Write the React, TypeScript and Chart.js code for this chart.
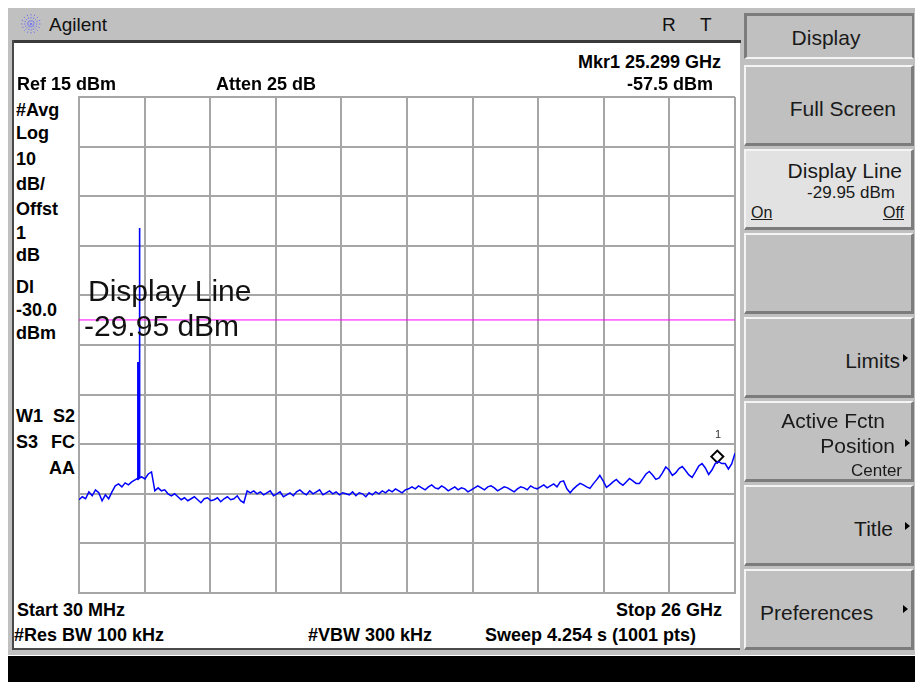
import React, { useEffect, useRef } from "react";
import { Chart, registerables } from "chart.js";

Chart.register(...registerables);

// ---- Sweep setup ----
const START_GHZ = 0.03;
const STOP_GHZ = 26;
const REF_LEVEL_DBM = 15;
const DB_PER_DIV = 10;
const DIVISIONS = 10;

// ---- Trace 1 (dBm), evenly spaced from start to stop ----
const traceLevels = [
  -66.2, -65.6, -66.0,
  -64.6, -65.4, -64.2, -64.8,
  -66.4, -65.2, -66.0,
  -64.6,
  -63.4, -63.0, -63.6, -62.8, -63.2,
  -62.6, -62.2, -61.8,
  -61.6, -62.0, -61.0, -60.6,
  -64.4,
  -63.8, -64.4, -64.2, -65.0, -65.4, -65.0,
  -65.6, -66.2, -65.8, -66.4, -66.0, -65.6, -66.2, -66.8, -66.0, -65.8,
  -66.4, -66.2, -65.8, -66.6, -66.0, -65.6, -66.2, -66.0, -65.4, -66.4, -66.8,
  -64.4, -64.8, -64.4, -65.0, -64.6, -65.2, -64.8, -64.4, -65.4, -65.0,
  -64.6, -65.6, -65.2, -64.8, -65.4, -64.6,
  -64.2, -64.8, -65.2, -64.4, -65.0, -64.6, -64.2, -65.2, -64.8, -64.4,
  -65.0, -64.6, -65.2, -64.8, -65.0,
  -65.2, -64.6, -65.4, -64.8, -65.0, -65.6, -64.8, -65.2, -64.6, -65.0,
  -64.4, -64.8, -64.2, -64.6, -64.0, -64.4, -64.8, -64.2, -64.0,
  -63.6, -64.0, -63.4, -63.8, -64.2, -63.6, -63.2, -63.8, -64.0, -63.4,
  -63.8, -64.4, -64.0, -63.6, -64.2, -63.8, -64.0, -64.6, -64.2, -63.8,
  -63.4, -63.8, -64.2, -63.6, -63.4, -63.8, -64.4, -64.0, -63.6, -63.8,
  -64.2, -64.6, -64.0, -63.6, -63.8, -64.2, -63.4, -63.8, -64.0, -63.6,
  -63.2, -63.8, -63.4, -63.0, -63.6,
  -62.6, -62.4, -64.0, -64.8, -64.0, -63.4, -62.9, -63.2, -63.6, -63.9,
  -63.0, -62.2, -61.3, -62.4, -63.7, -63.2, -62.6, -62.1, -62.8, -63.3,
  -62.6, -61.9, -62.4, -62.9, -62.9, -62.0, -61.0, -60.5, -61.2, -62.1,
  -61.8, -60.8, -59.6, -60.2, -61.3, -60.8, -59.9, -59.5, -60.3, -61.2,
  -61.7, -60.6, -59.4, -58.9, -59.8, -61.1, -60.2, -58.9, -58.5, -58.9,
  -58.9, -60.0, -59.0, -56.8,
];

// ---- Spurious signal near 2.4 GHz ----
const spikeFreqsGHz = [2.36, 2.36, 2.385, 2.385, 2.43, 2.43, 2.43];
const spikeLevels = [-62.2, -38.6, -38.6, -62.0, -61.8, -11.4, -61.6];

// ---- Display line and marker ----
const displayLineDbm = -29.95;
const markerFreqGHz = 25.299;
const markerDbm = -57.5;

const W = 915;

type TP = {
  x: number;
  y: number;
  s?: number;
  b?: boolean;
  r?: boolean;
  c?: boolean;
  u?: boolean;
  color?: string;
  children: React.ReactNode;
};

const T = ({ x, y, s = 18, b = true, r = false, c = false, u = false, color = "#000", children }: TP) => {
  const pos: React.CSSProperties = c
    ? { left: x, transform: "translate(-50%,-50%)" }
    : r
    ? { right: W - x, transform: "translateY(-50%)" }
    : { left: x, transform: "translateY(-50%)" };
  return (
    <div
      style={{
        position: "absolute",
        top: y,
        ...pos,
        fontSize: s,
        fontWeight: b ? 700 : 400,
        lineHeight: 1,
        whiteSpace: "nowrap",
        color,
        textDecoration: u ? "underline" : undefined,
      }}
    >
      {children}
    </div>
  );
};

const Tri = ({ x, y }: { x: number; y: number }) => (
  <div
    style={{
      position: "absolute",
      left: x,
      top: y - 4,
      width: 0,
      height: 0,
      borderTop: "4px solid transparent",
      borderBottom: "4px solid transparent",
      borderLeft: "5px solid #000",
    }}
  />
);

const Btn = ({ top, h = 81, bg = "#c0c0c0" }: { top: number; h?: number; bg?: string }) => (
  <div
    style={{
      position: "absolute",
      left: 744,
      top,
      width: 170,
      height: h,
      boxSizing: "border-box",
      background: bg,
      borderTop: "2px solid #f4f4f4",
      borderLeft: "2px solid #f4f4f4",
      borderBottom: "3px solid #7c7c7c",
      borderRight: "3px solid #7c7c7c",
    }}
  />
);

export default function App() {
  const ref = useRef<HTMLCanvasElement | null>(null);

  useEffect(() => {
    if (!ref.current) return;
    const span = STOP_GHZ - START_GHZ;
    const xTicks = Array.from({ length: DIVISIONS + 1 }, (_, k) => START_GHZ + (k * span) / DIVISIONS);
    const bottom = REF_LEVEL_DBM - DB_PER_DIV * DIVISIONS;
    const yTicks = Array.from({ length: DIVISIONS + 1 }, (_, k) => bottom + k * DB_PER_DIV);
    const n = traceLevels.length;
    const trace = traceLevels.map((y, i) => ({ x: START_GHZ + (i * span) / (n - 1), y }));
    const spike = spikeFreqsGHz.map((x, i) => ({ x, y: spikeLevels[i] }));

    const gridColor = "#a6a6a6";
    const chart = new Chart(ref.current, {
      type: "scatter",
      data: {
        datasets: [
          {
            data: [
              { x: START_GHZ, y: displayLineDbm },
              { x: STOP_GHZ, y: displayLineDbm },
            ],
            showLine: true,
            borderColor: "#ff00ff",
            borderWidth: 1,
            pointRadius: 0,
          },
          {
            data: trace,
            showLine: true,
            borderColor: "#0000ff",
            borderWidth: 1.5,
            pointRadius: 0,
            tension: 0,
          },
          {
            data: spike,
            showLine: true,
            borderColor: "#0000ff",
            borderWidth: 1.6,
            pointRadius: 0,
            tension: 0,
          },
          {
            data: [{ x: markerFreqGHz, y: markerDbm }],
            showLine: false,
            pointStyle: "rectRot",
            pointRadius: 6,
            borderColor: "#000",
            borderWidth: 2,
            backgroundColor: "rgba(255,255,255,0)",
          },
        ],
      },
      options: {
        animation: false,
        responsive: false,
        maintainAspectRatio: false,
        events: [],
        layout: { padding: 4, autoPadding: false },
        plugins: { legend: { display: false }, tooltip: { enabled: false } },
        scales: {
          x: {
            type: "linear",
            min: START_GHZ,
            max: STOP_GHZ,
            afterBuildTicks: (ax: any) => {
              ax.ticks = xTicks.map((value) => ({ value }));
            },
            ticks: { display: false },
            grid: { color: gridColor, lineWidth: 2, drawTicks: false },
            border: { display: true, color: gridColor, width: 2 },
          },
          y: {
            type: "linear",
            min: bottom,
            max: REF_LEVEL_DBM,
            afterBuildTicks: (ax: any) => {
              ax.ticks = yTicks.map((value) => ({ value }));
            },
            ticks: { display: false },
            grid: { color: gridColor, lineWidth: 2, drawTicks: false },
            border: { display: true, color: gridColor, width: 2 },
          },
        },
      },
    });
    return () => chart.destroy();
  }, []);

  const sk = "#1a1a1a";

  return (
    <div
      style={{
        position: "absolute",
        left: 0,
        top: 0,
        width: 915,
        height: 682,
        overflow: "hidden",
        background: "#fff",
        fontFamily: '"Liberation Sans", Arial, sans-serif',
      }}
    >
      {/* instrument frame */}
      <div style={{ position: "absolute", left: 8, top: 8, width: 907, height: 647, background: "#c0c0c0" }} />
      {/* display area */}
      <div style={{ position: "absolute", left: 12, top: 40, width: 729, height: 3, background: "#3a3a3a" }} />
      <div style={{ position: "absolute", left: 12, top: 40, width: 2, height: 610, background: "#4a4a4a" }} />
      <div style={{ position: "absolute", left: 14, top: 43, width: 726, height: 605, background: "#fff" }} />
      <div style={{ position: "absolute", left: 12, top: 648, width: 728, height: 2, background: "#4a4a4a" }} />
      {/* bottom status bar */}
      <div style={{ position: "absolute", left: 8, top: 656, width: 907, height: 26, background: "#000" }} />

      {/* title bar */}
      <svg style={{ position: "absolute", left: 20, top: 13 }} width="22" height="22" viewBox="0 0 22 22">
        {[0, 22.5, 45, 67.5, 90, 112.5, 135, 157.5].map((a) => (
          <line
            key={a}
            x1={11 - 10 * Math.cos((a * Math.PI) / 180)}
            y1={11 - 10 * Math.sin((a * Math.PI) / 180)}
            x2={11 + 10 * Math.cos((a * Math.PI) / 180)}
            y2={11 + 10 * Math.sin((a * Math.PI) / 180)}
            stroke="#7777ee"
            strokeWidth="1"
            strokeDasharray="1.5 1.5"
          />
        ))}
      </svg>
      <T x={49} y={24} s={19} b={false} color="#111">Agilent</T>
      <T x={662} y={24} s={19} b={false} color="#111">R</T>
      <T x={700} y={24} s={19} b={false} color="#111">T</T>

      {/* chart */}
      <canvas
        ref={ref}
        width={664}
        height={504}
        style={{ position: "absolute", left: 75, top: 93, width: 664, height: 504 }}
      />

      {/* annotations */}
      <T x={17} y={84}>Ref 15 dBm</T>
      <T x={216} y={84}>Atten 25 dB</T>
      <T x={721} y={62} r>Mkr1 25.299 GHz</T>
      <T x={713} y={84} r>-57.5 dBm</T>

      <T x={16} y={110}>#Avg</T>
      <T x={16} y={133}>Log</T>
      <T x={16} y={159}>10</T>
      <T x={16} y={184}>dB/</T>
      <T x={16} y={209}>Offst</T>
      <T x={16} y={233}>1</T>
      <T x={16} y={255}>dB</T>
      <T x={16} y={287}>Dl</T>
      <T x={16} y={310}>-30.0</T>
      <T x={16} y={333}>dBm</T>
      <T x={16} y={416}>W1</T>
      <T x={75} y={416} r>S2</T>
      <T x={16} y={442}>S3</T>
      <T x={75} y={442} r>FC</T>
      <T x={75} y={468} r>AA</T>

      <T x={88} y={291} s={30} b={false} color="#111">Display Line</T>
      <T x={84} y={326} s={30} b={false} color="#111">-29.95 dBm</T>
      <T x={718} y={434} s={11} b={false} c color="#333">1</T>

      <T x={17} y={610}>Start 30 MHz</T>
      <T x={722} y={610} r>Stop 26 GHz</T>
      <T x={14} y={635}>#Res BW 100 kHz</T>
      <T x={308} y={635}>#VBW 300 kHz</T>
      <T x={485} y={635}>Sweep 4.254 s (1001 pts)</T>

      {/* softkeys */}
      <div
        style={{
          position: "absolute",
          left: 744,
          top: 13,
          width: 170,
          height: 46,
          boxSizing: "border-box",
          background: "#c0c0c0",
          borderTop: "3px solid #7c7c7c",
          borderLeft: "3px solid #7c7c7c",
          borderRight: "2px solid #7c7c7c",
          borderBottom: "2px solid #f4f4f4",
        }}
      />
      <Btn top={65} />
      <Btn top={149} bg="#e2e2e2" />
      <Btn top={233} />
      <Btn top={317} />
      <Btn top={401} />
      <Btn top={485} />
      <Btn top={569} />

      <T x={826} y={37} s={21} b={false} c color={sk}>Display</T>
      <T x={896} y={108} s={21} b={false} r color={sk}>Full Screen</T>
      <T x={902} y={170} s={21} b={false} r color={sk}>Display Line</T>
      <T x={895} y={192} s={17} b={false} r color={sk}>-29.95 dBm</T>
      <T x={751} y={213} s={16} b={false} u color={sk}>On</T>
      <T x={904} y={213} s={16} b={false} r u color={sk}>Off</T>
      <T x={900} y={360} s={21} b={false} r color={sk}>Limits</T>
      <Tri x={903} y={358} />
      <T x={885} y={420} s={21} b={false} r color={sk}>Active Fctn</T>
      <T x={895} y={445} s={21} b={false} r color={sk}>Position</T>
      <Tri x={905} y={443} />
      <T x={902} y={470} s={17} b={false} r color={sk}>Center</T>
      <T x={893} y={528} s={21} b={false} r color={sk}>Title</T>
      <Tri x={905} y={526} />
      <T x={760} y={612} s={21} b={false} color={sk}>Preferences</T>
      <Tri x={903} y={609} />
    </div>
  );
}
